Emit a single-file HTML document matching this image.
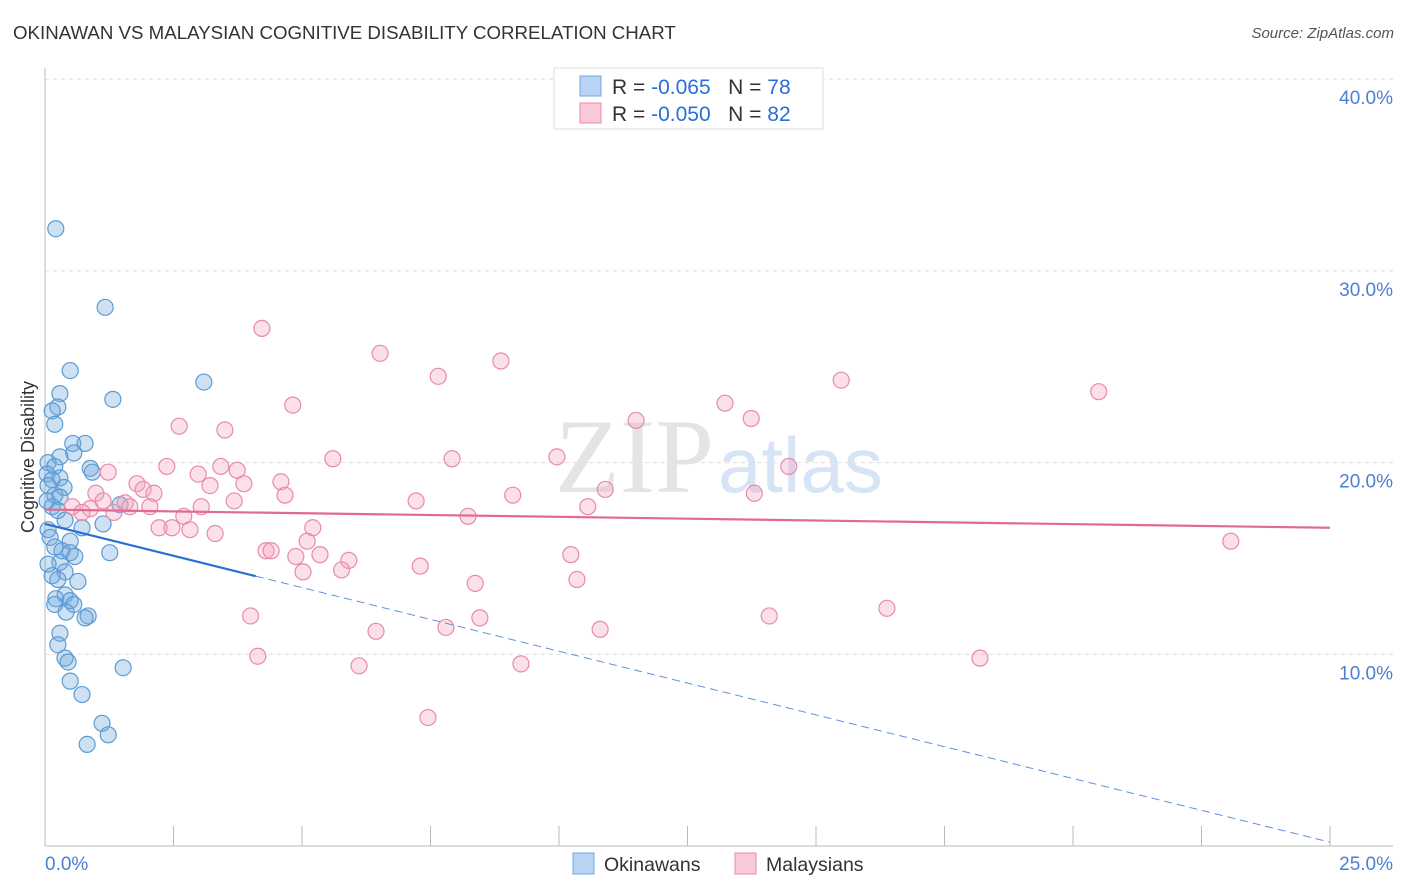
<!DOCTYPE html>
<html><head><meta charset="utf-8">
<style>
body{margin:0;background:#fff;font-family:"Liberation Sans",sans-serif;}
#wrap{position:relative;width:1406px;height:892px;overflow:hidden;}
.t{position:absolute;white-space:nowrap;}
</style></head><body>
<div id="wrap">
<div class="t" style="left:13px;top:22px;font-size:18.7px;color:#333;">OKINAWAN VS MALAYSIAN COGNITIVE DISABILITY CORRELATION CHART</div>
<div class="t" style="right:12px;top:25px;font-size:15px;color:#555;font-style:italic;">Source: ZipAtlas.com</div>
<svg id="plot" width="1406" height="892" style="position:absolute;left:0;top:0"></svg>
</div>
<script>
const yTicks=[10,20,30,40];
const xTickLabels=["0.0%","25.0%"];
const blueX=[.21,1.17,.49,3.09,.29,1.32,.25,.14,.19,.54,.78,.56,.29,.06,.19,.88,.92,.04,.29,.14,.06,.37,.19,.29,.04,.14,.25,1.46,.39,1.13,.72,.06,.1,.49,.19,.33,.49,1.26,.58,.29,.06,.39,.14,.64,.25,.39,.21,.49,.56,.19,.41,.84,.78,.29,.25,.39,.45,1.52,.49,.72,1.11,1.23,.82];
const blueY=[32.2,28.1,24.8,24.2,23.6,23.3,22.9,22.7,22.0,21.0,21.0,20.5,20.3,20.0,19.8,19.7,19.5,19.4,19.2,19.1,18.8,18.7,18.3,18.2,18.0,17.7,17.5,17.8,17.0,16.8,16.6,16.5,16.1,15.9,15.6,15.4,15.3,15.3,15.1,14.8,14.7,14.3,14.1,13.8,13.9,13.1,12.9,12.8,12.6,12.6,12.2,12.0,11.9,11.1,10.5,9.8,9.6,9.3,8.6,7.9,6.4,5.8,5.3];
const pinkX=[4.22,6.52,8.87,7.65,15.49,20.5,4.82,13.23,13.74,11.5,2.61,3.5,5.6,7.92,9.96,2.37,3.42,14.47,3.74,1.23,2.98,4.59,3.87,3.21,1.79,1.91,2.12,.99,4.67,9.1,10.9,13.8,3.68,1.13,7.22,1.56,1.65,2.04,3.04,.88,.53,10.56,1.34,.72,8.23,2.7,5.21,2.22,2.47,2.82,3.31,5.1,23.07,4.3,4.4,5.35,4.88,10.23,5.91,7.3,5.77,5.02,10.35,8.37,16.38,4.0,14.09,8.46,7.8,10.8,6.44,4.14,18.19,9.26,6.11,7.45];
const pinkY=[27.0,25.7,25.3,24.5,24.3,23.7,23.0,23.1,22.3,22.2,21.9,21.7,20.2,20.2,20.3,19.8,19.8,19.8,19.6,19.5,19.4,19.0,18.9,18.8,18.9,18.6,18.4,18.4,18.3,18.3,18.6,18.4,18.0,18.0,18.0,17.9,17.7,17.7,17.7,17.6,17.7,17.7,17.4,17.4,17.2,17.2,16.6,16.6,16.6,16.5,16.3,15.9,15.9,15.4,15.4,15.2,15.1,15.2,14.9,14.6,14.4,14.3,13.9,13.7,12.4,12.0,12.0,11.9,11.4,11.3,11.2,9.9,9.8,9.5,9.4,6.7];
const blueTrend=[16.8,0.2];
const blueSolidEnd=4.1;
const pinkTrend=[17.55,16.6];
const X=v=>45+v*51.4, Y=v=>846-v*19.17;
const NS="http://www.w3.org/2000/svg", svg=document.getElementById('plot');
function el(tag,attrs,parent){const e=document.createElementNS(NS,tag);for(const k in attrs)e.setAttribute(k,attrs[k]);(parent||svg).appendChild(e);return e;}
yTicks.forEach(t=>{
  const g=el('line',{x1:45,x2:1393,y1:Y(t),y2:Y(t),stroke:'#ddd','stroke-dasharray':'4,4'});
  
  
  const tx=el('text',{x:1393,y:Y(t)+25,'text-anchor':'end','font-size':19,fill:'#4a7fd4','font-family':'Liberation Sans, sans-serif'});
  tx.textContent=t.toFixed(1)+'%';
  
  
});
el('line',{x1:45,x2:45,y1:68,y2:846,stroke:'#bbb'});
el('line',{x1:45,x2:1393,y1:846,y2:846,stroke:'#bbb'});
for(let i=0;i<=10;i++){const tk=el('line',{x1:X(i*2.5),x2:X(i*2.5),y1:826,y2:846,stroke:'#bbb'});

}
const xl0=el('text',{x:45,y:870,'font-size':19,fill:'#4a7fd4','font-family':'Liberation Sans, sans-serif'});xl0.textContent=xTickLabels[0];


const xl1=el('text',{x:1393,y:870,'text-anchor':'end','font-size':19,fill:'#4a7fd4','font-family':'Liberation Sans, sans-serif'});xl1.textContent=xTickLabels[1];


const yt=el('text',{x:34,y:457,'text-anchor':'middle','font-size':18,fill:'#333',transform:'rotate(-90 34 457)','font-family':'Liberation Sans, sans-serif'});yt.textContent='Cognitive Disability';


const wm=el('text',{x:555,y:492,'font-size':106,fill:'#e4e4e4','font-family':'Liberation Serif, serif'});wm.textContent='ZIP';


const wm2=el('text',{x:718,y:492,'font-size':78,fill:'#d6e4f5','font-family':'Liberation Sans, sans-serif'});wm2.textContent='atlas';


blueX.forEach((v,i)=>{const c=el('circle',{cx:X(v),cy:Y(blueY[i]),r:8,fill:'rgba(111,168,220,0.35)',stroke:'#5b9bd5','stroke-width':1.2});

});
pinkX.forEach((v,i)=>{const c=el('circle',{cx:X(v),cy:Y(pinkY[i]),r:8,fill:'rgba(244,166,192,0.35)',stroke:'#e88aab','stroke-width':1.2});

});
const by=x=>blueTrend[0]+(blueTrend[1]-blueTrend[0])*x/25;
const b1=el('line',{x1:X(0),y1:Y(by(0)),x2:X(blueSolidEnd),y2:Y(by(blueSolidEnd)),stroke:'#2a6fd6','stroke-width':2.2});


const b2=el('line',{x1:X(blueSolidEnd),y1:Y(by(blueSolidEnd)),x2:X(25),y2:Y(by(25)),stroke:'#5b8fd6','stroke-width':1,'stroke-dasharray':'8,5'});


const p1=el('line',{x1:X(0),y1:Y(pinkTrend[0]),x2:X(25),y2:Y(pinkTrend[1]),stroke:'#e06a93','stroke-width':2.2});


const lg=el('rect',{x:554,y:68,width:269,height:61,fill:'#fff',stroke:'#ddd'});


[[0,'#b8d3f3','#6fa8dc','-0.065','78'],[1,'#f9c9d8','#e88aab','-0.050','82']].forEach(r=>{
 const y0=76+r[0]*27;
 el('rect',{x:580,y:y0,width:21,height:20,fill:r[1],stroke:r[2]});
 const t=el('text',{x:612,y:y0+18,'font-size':21,fill:'#333','font-family':'Liberation Sans, sans-serif'});
 t.innerHTML='R = <tspan fill="#2a6fd6">'+r[3]+'</tspan>&#160;&#160;&#160;N = <tspan fill="#2a6fd6">'+r[4]+'</tspan>';
 
 
});
[[573,'#b8d3f3','#6fa8dc','Okinawans'],[735,'#f9c9d8','#e88aab','Malaysians']].forEach(r=>{
 const s=el('rect',{x:r[0],y:853,width:21,height:21,fill:r[1],stroke:r[2]});
 
 
 const t=el('text',{x:r[0]+31,y:871,'font-size':19.5,fill:'#333','font-family':'Liberation Sans, sans-serif'});t.textContent=r[3];
 
 
});
</script>
</body></html>
